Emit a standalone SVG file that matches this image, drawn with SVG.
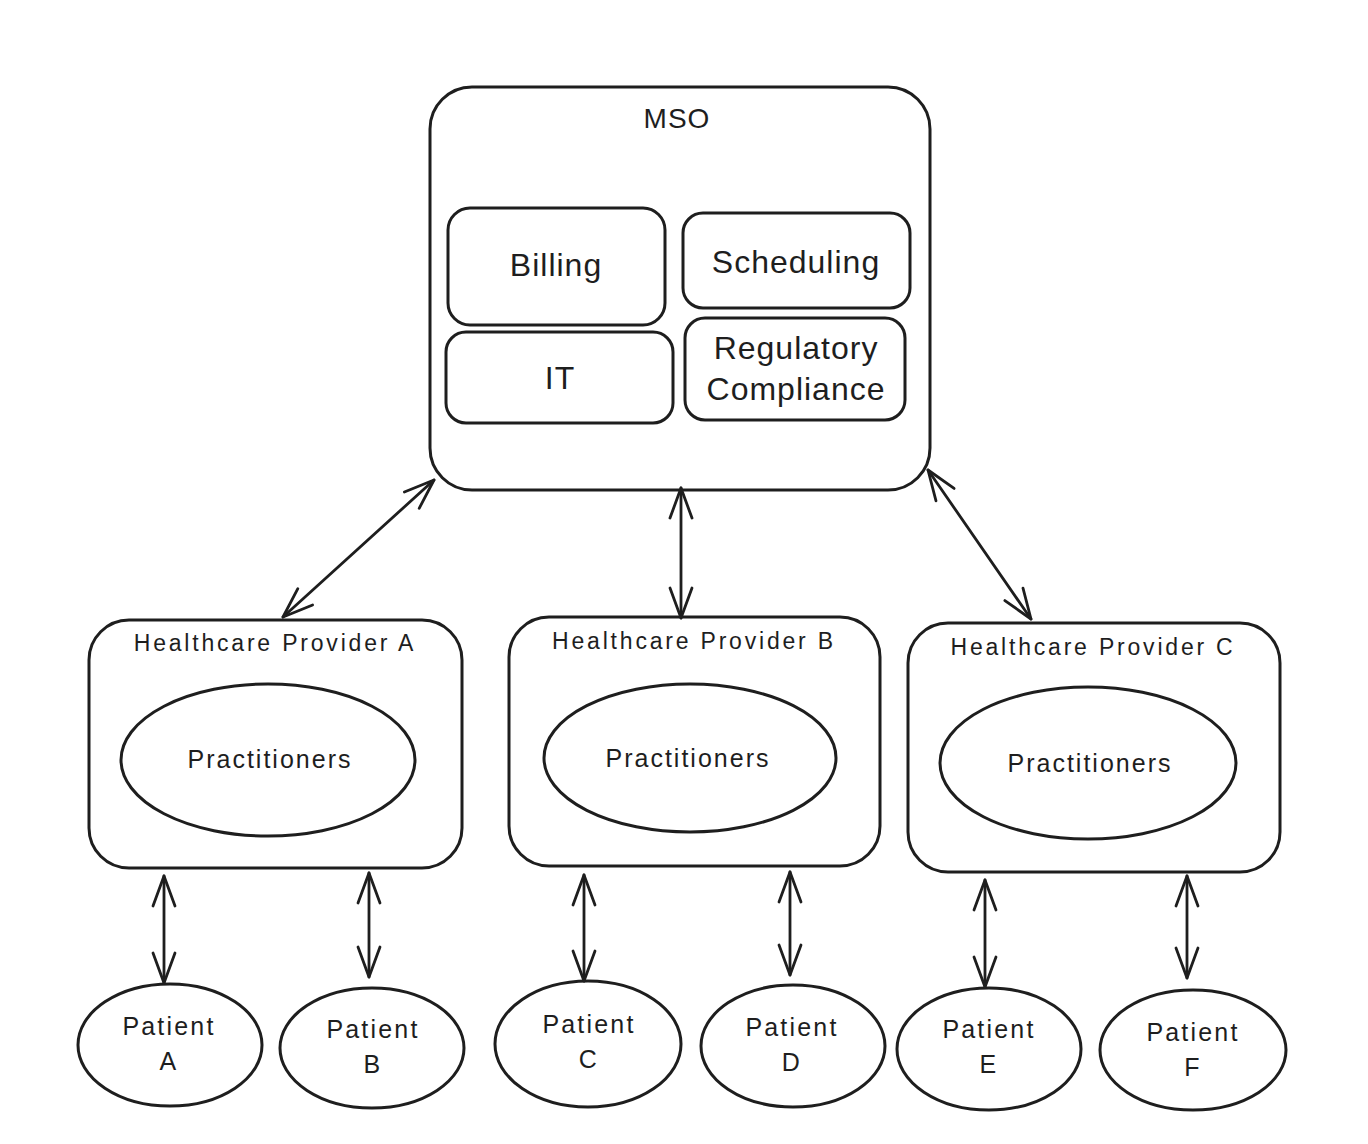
<svg xmlns="http://www.w3.org/2000/svg" width="1368" height="1144" viewBox="0 0 1368 1144">
<defs>
<style>
.s{fill:none;stroke:#1e1e1e;stroke-width:3;stroke-linecap:round;stroke-linejoin:round}
.c{fill:none;stroke:#1e1e1e;stroke-width:2.8;stroke-linecap:round}
.t{font-family:"Liberation Sans",Arial,sans-serif;fill:#1e1e1e;text-anchor:middle}
.big{font-size:32px;letter-spacing:1px}
.mso{font-size:28px;letter-spacing:1px}
.hp{font-size:23px;letter-spacing:2.8px}
.pr{font-size:25px;letter-spacing:2px}
.pt{font-size:25px;letter-spacing:2.2px}
</style>
<marker id="ah" viewBox="-34 -14 36 28" refX="0" refY="0" markerWidth="36" markerHeight="28" markerUnits="userSpaceOnUse" orient="auto-start-reverse">
<path d="M-30,-11 L0,0 L-30,11" fill="none" stroke="#1e1e1e" stroke-width="2.8" stroke-linecap="round" stroke-linejoin="round"/>
</marker>
</defs>
<rect width="1368" height="1144" fill="#ffffff"/>

<g id="mso">
<rect class="s" x="430" y="87" width="500" height="403" rx="42"/>
<text class="t mso" x="677" y="128">MSO</text>
</g>
<g id="billing">
<rect class="s" x="448" y="208" width="217" height="117" rx="22"/>
<text class="t big" x="556" y="276">Billing</text>
</g>
<g id="scheduling">
<rect class="s" x="683" y="213" width="227" height="95" rx="20"/>
<text class="t big" x="796" y="273">Scheduling</text>
</g>
<g id="it">
<rect class="s" x="446" y="332" width="227" height="91" rx="20"/>
<text class="t big" x="560" y="389">IT</text>
</g>
<g id="regulatory">
<rect class="s" x="685" y="318" width="220" height="102" rx="20"/>
<text class="t big" x="796" y="359">Regulatory</text>
<text class="t big" x="796" y="400">Compliance</text>
</g>

<g id="providerA">
<rect class="s" x="89" y="620" width="373" height="248" rx="40"/>
<text class="t hp" x="275" y="651">Healthcare Provider A</text>
</g>
<g id="practA">
<ellipse class="s" cx="268" cy="760" rx="147" ry="76"/>
<text class="t pr" x="270" y="768">Practitioners</text>
</g>
<g id="providerB">
<rect class="s" x="509" y="617" width="371" height="249" rx="40"/>
<text class="t hp" x="694" y="649">Healthcare Provider B</text>
</g>
<g id="practB">
<ellipse class="s" cx="690" cy="758" rx="146" ry="74"/>
<text class="t pr" x="688" y="767">Practitioners</text>
</g>
<g id="providerC">
<rect class="s" x="908" y="623" width="372" height="249" rx="40"/>
<text class="t hp" x="1093" y="655">Healthcare Provider C</text>
</g>
<g id="practC">
<ellipse class="s" cx="1088" cy="763" rx="148" ry="76"/>
<text class="t pr" x="1090" y="772">Practitioners</text>
</g>

<g id="patientA">
<ellipse class="s" cx="170" cy="1045" rx="92" ry="61"/>
<text class="t pt" x="169" y="1035">Patient</text>
<text class="t pt" x="169" y="1070">A</text>
</g>
<g id="patientB">
<ellipse class="s" cx="372" cy="1048" rx="92" ry="60"/>
<text class="t pt" x="373" y="1038">Patient</text>
<text class="t pt" x="373" y="1073">B</text>
</g>
<g id="patientC">
<ellipse class="s" cx="588" cy="1044" rx="93" ry="63"/>
<text class="t pt" x="589" y="1033">Patient</text>
<text class="t pt" x="589" y="1068">C</text>
</g>
<g id="patientD">
<ellipse class="s" cx="793" cy="1046" rx="92" ry="61"/>
<text class="t pt" x="792" y="1036">Patient</text>
<text class="t pt" x="792" y="1071">D</text>
</g>
<g id="patientE">
<ellipse class="s" cx="989" cy="1049" rx="92" ry="61"/>
<text class="t pt" x="989" y="1038">Patient</text>
<text class="t pt" x="989" y="1073">E</text>
</g>
<g id="patientF">
<ellipse class="s" cx="1193" cy="1050" rx="93" ry="60"/>
<text class="t pt" x="1193" y="1041">Patient</text>
<text class="t pt" x="1193" y="1076">F</text>
</g>

<g id="connectors">
<line class="c" x1="434" y1="480" x2="283" y2="617" marker-start="url(#ah)" marker-end="url(#ah)"/>
<line class="c" x1="681" y1="488" x2="681" y2="618" marker-start="url(#ah)" marker-end="url(#ah)"/>
<line class="c" x1="928" y1="470" x2="1031" y2="619" marker-start="url(#ah)" marker-end="url(#ah)"/>
<line class="c" x1="164" y1="876" x2="164" y2="983" marker-start="url(#ah)" marker-end="url(#ah)"/>
<line class="c" x1="369" y1="873" x2="369" y2="977" marker-start="url(#ah)" marker-end="url(#ah)"/>
<line class="c" x1="584" y1="875" x2="584" y2="981" marker-start="url(#ah)" marker-end="url(#ah)"/>
<line class="c" x1="790" y1="872" x2="790" y2="975" marker-start="url(#ah)" marker-end="url(#ah)"/>
<line class="c" x1="985" y1="880" x2="985" y2="987" marker-start="url(#ah)" marker-end="url(#ah)"/>
<line class="c" x1="1187" y1="876" x2="1187" y2="978" marker-start="url(#ah)" marker-end="url(#ah)"/>
</g>
</svg>
